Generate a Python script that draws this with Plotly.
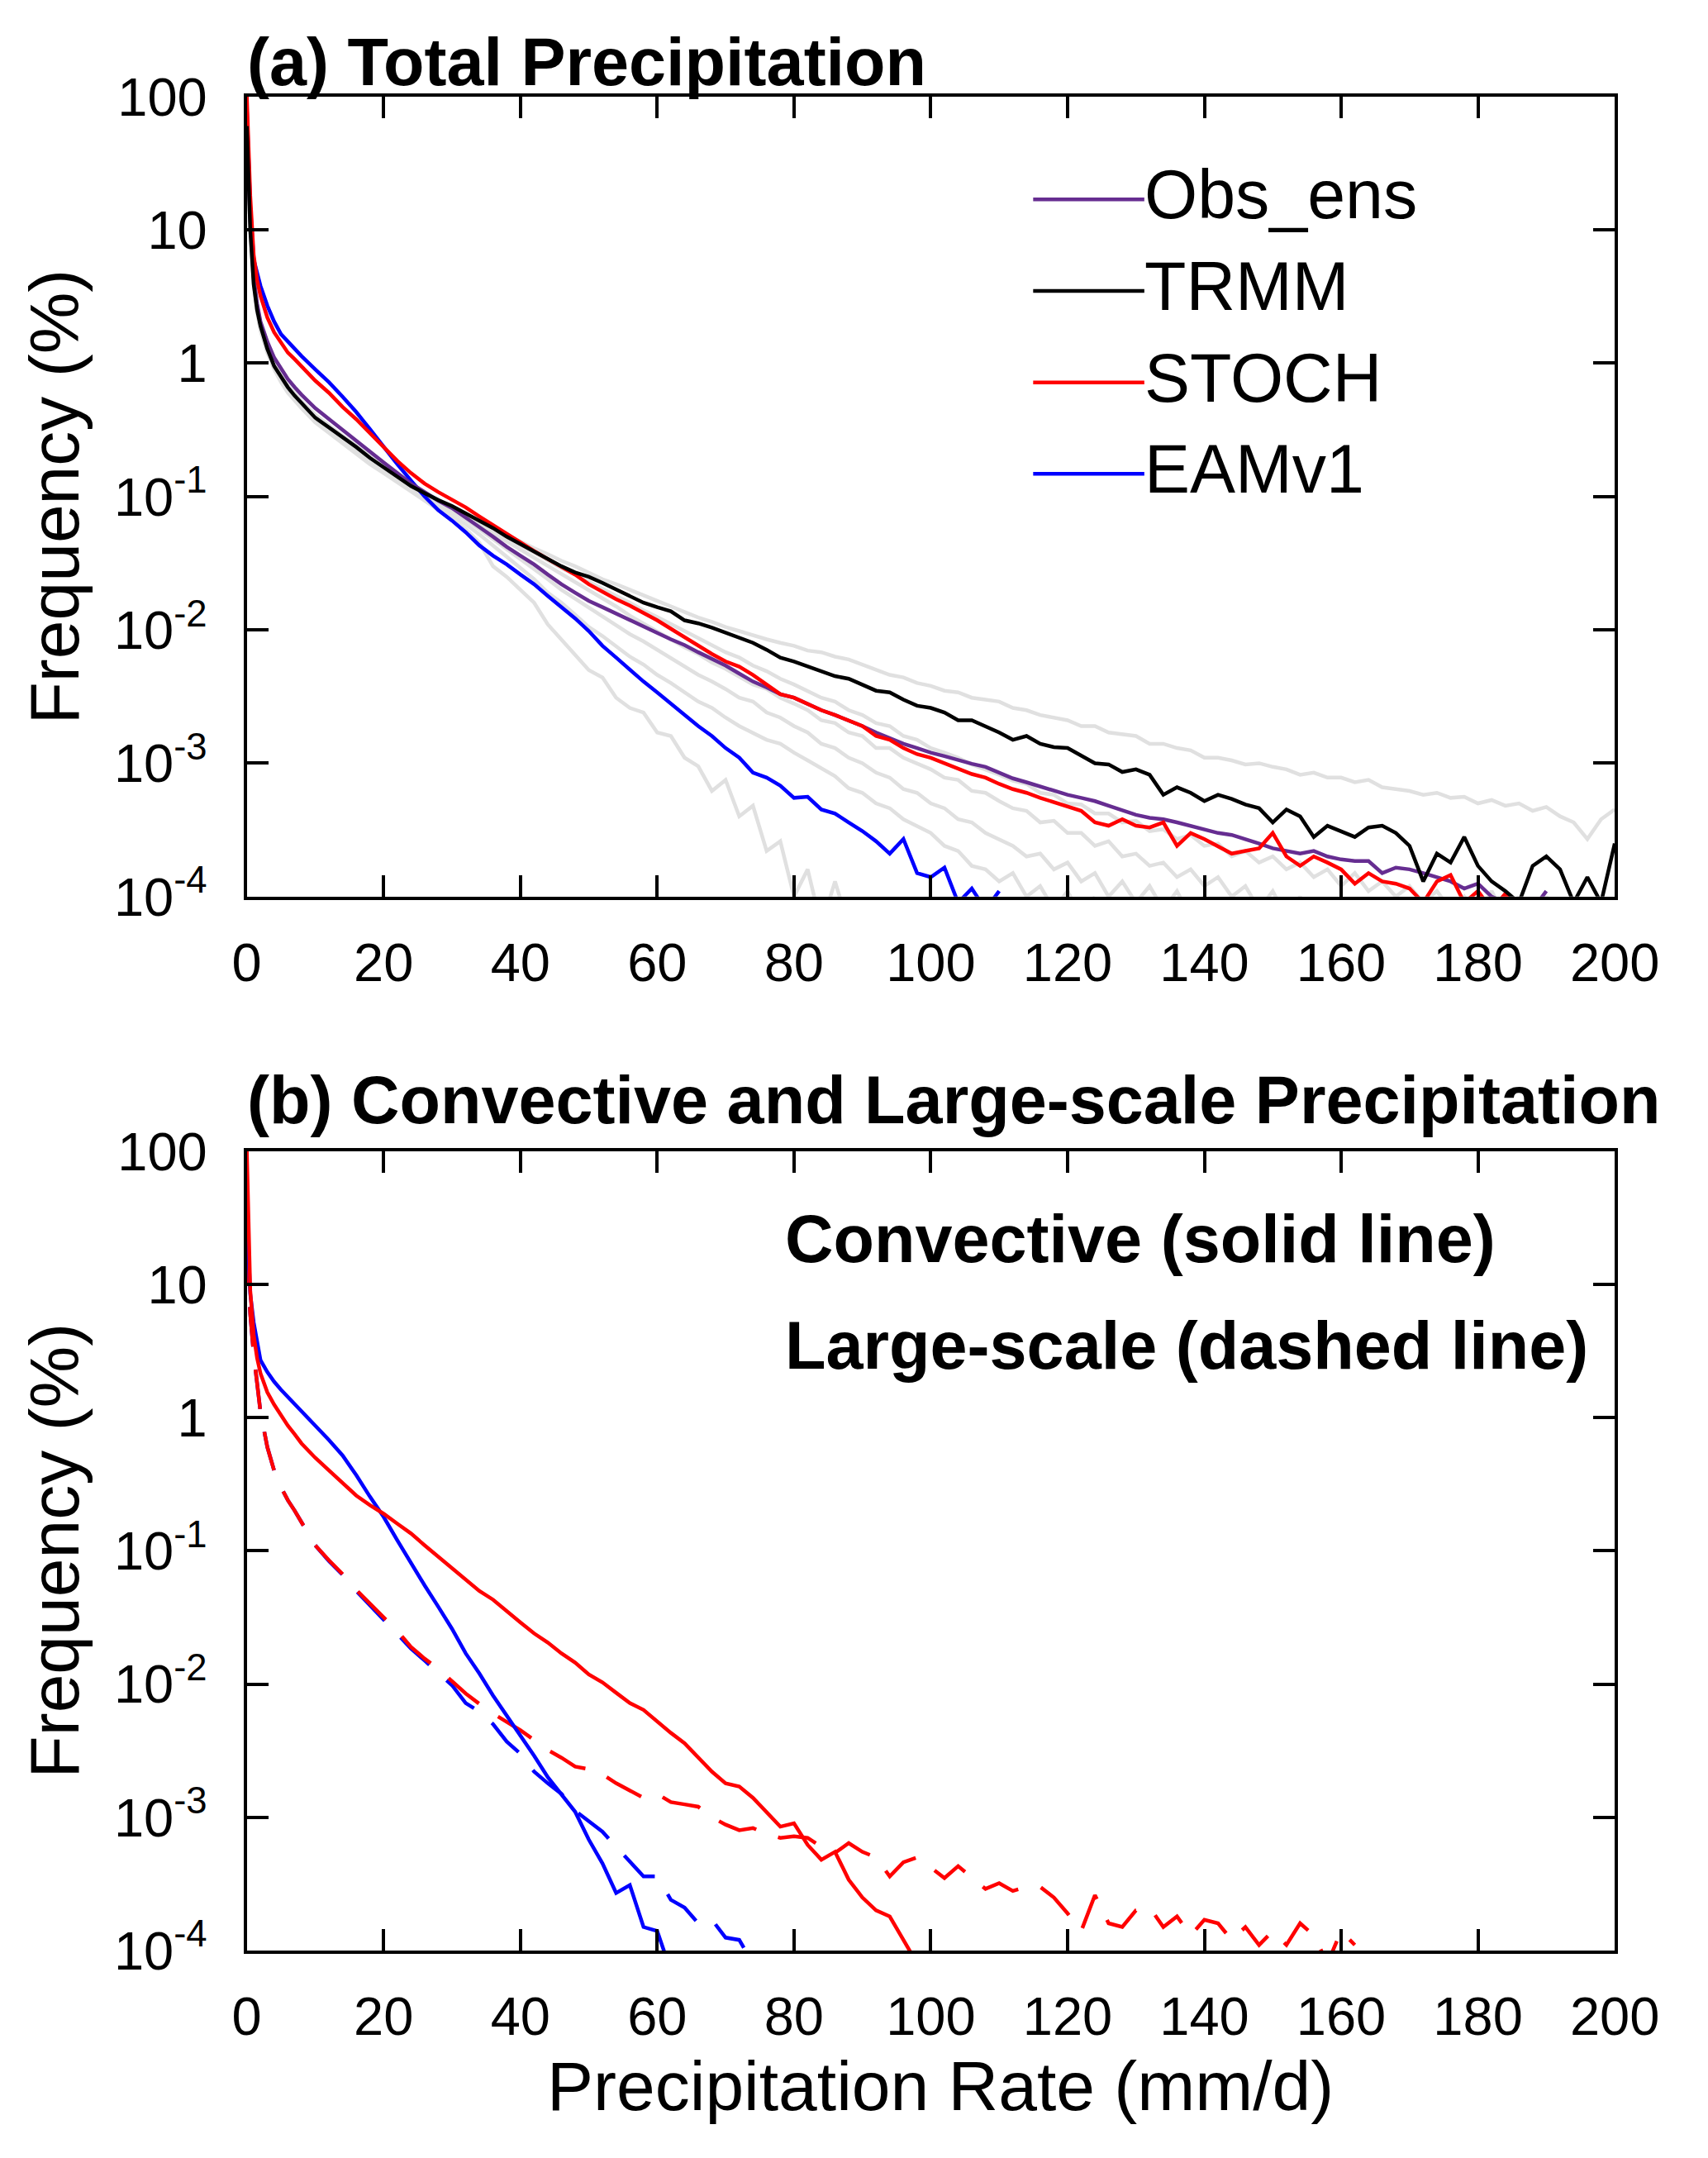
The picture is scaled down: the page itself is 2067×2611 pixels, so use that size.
import plotly.graph_objects as go

# bin centres (mm/d)
X_EARLY = [0, 0.5, 1, 1.5, 2, 3, 4, 5, 6, 7, 8]
X = X_EARLY + list(range(10, 201, 2))
N = len(X)


def pad(vals):
    return vals + [None] * (N - len(vals))


# ---- (a) total precipitation, frequency in % ----
OBS_ENS = pad([60, 12, 4.4, 2.8, 2.05, 1.45, 1.1, 0.9, 0.76, 0.66, 0.58,
    0.46, 0.38, 0.32, 0.26, 0.215, 0.18, 0.15, 0.125, 0.108, 0.093,
    0.082, 0.07, 0.059, 0.05, 0.042, 0.036, 0.031, 0.026, 0.022, 0.019,
    0.0165, 0.0148, 0.0133, 0.0118, 0.0106, 0.0095, 0.0085, 0.0077, 0.0068, 0.0061,
    0.0054, 0.0047, 0.0041, 0.0037, 0.0033, 0.0031, 0.0028, 0.0025, 0.0023, 0.0021,
    0.0019, 0.0017, 0.00155, 0.0014, 0.0013, 0.0012, 0.00113, 0.00105, 0.00099, 0.00094,
    0.00085, 0.00077, 0.00072, 0.00067, 0.00062, 0.00058, 0.00055, 0.00052, 0.00048, 0.00044,
    0.00041, 0.00039, 0.00038, 0.00036, 0.00034, 0.00032, 0.0003, 0.00029, 0.00027, 0.00025,
    0.00023, 0.00022, 0.00021, 0.00022, 0.0002, 0.00019, 0.000185, 0.000185, 0.00015, 0.000165,
    0.00016, 0.00015, 0.00014, 0.00013, 0.000115, 0.000125, 0.0001, 0.00009, 0.000095, 0.00008,
    0.00011])

TRMM = [60, 10, 3.9, 2.5, 1.9, 1.28, 0.95, 0.78, 0.66, 0.57, 0.5,
    0.39, 0.33, 0.28, 0.235, 0.195, 0.165, 0.14, 0.12, 0.106, 0.094,
    0.085, 0.075, 0.066, 0.058, 0.05, 0.044, 0.039, 0.034, 0.030, 0.027,
    0.025, 0.0225, 0.020, 0.018, 0.016, 0.0148, 0.0138, 0.0118, 0.0112, 0.0104,
    0.0095, 0.0087, 0.0080, 0.0071, 0.0062, 0.0058, 0.0053, 0.0049, 0.0045, 0.0043,
    0.0039, 0.0035, 0.0034, 0.0030, 0.0027, 0.0026, 0.0024, 0.0021, 0.0021, 0.0019,
    0.0017, 0.0015, 0.0016, 0.0014, 0.00132, 0.0013, 0.00115, 0.0010, 0.00098, 0.00086,
    0.0009, 0.00082, 0.00058, 0.00066, 0.0006, 0.00052, 0.00058, 0.00054, 0.00049, 0.00046,
    0.00036, 0.00045, 0.0004, 0.00028, 0.00034, 0.00031, 0.00028, 0.00033, 0.00034, 0.0003,
    0.00024, 0.00013, 0.00021, 0.00018, 0.00028, 0.00017, 0.00013, 0.00011, 0.00009, 0.00017,
    0.0002, 0.00016, 0.00009, 0.00014, 0.00009, 0.00025]

STOCH = pad([100, 18, 6.5, 4.2, 3.2, 2.2, 1.7, 1.42, 1.2, 1.07, 0.95,
    0.74, 0.6, 0.47, 0.38, 0.3, 0.235, 0.185, 0.15, 0.125, 0.108,
    0.095, 0.083, 0.071, 0.061, 0.052, 0.045, 0.039, 0.034, 0.030, 0.026,
    0.022, 0.0192, 0.017, 0.0152, 0.0135, 0.0118, 0.0102, 0.0088, 0.0076, 0.0066,
    0.0058, 0.0053, 0.0046, 0.0039, 0.0033, 0.0031, 0.0028, 0.0025, 0.0023, 0.0021,
    0.0019, 0.0016, 0.0015, 0.0013, 0.00117, 0.0011, 0.001, 0.0009, 0.00083, 0.00078,
    0.0007, 0.00064, 0.0006, 0.00055, 0.00051, 0.00047, 0.00044, 0.00036, 0.00034, 0.00038,
    0.00034, 0.00033, 0.00036, 0.00024, 0.0003, 0.00027, 0.00024, 0.00021, 0.00022, 0.00023,
    0.0003, 0.0002, 0.00017, 0.0002, 0.00018, 0.00016, 0.000125, 0.00015, 0.00013, 0.000125,
    0.000115, 0.00009, 0.00013, 0.000145, 0.00009, 0.00011, 0.00008, 0.000105, 0.00007])

EAMV1 = pad([80, 15, 6.0, 4.6, 3.8, 2.7, 2.05, 1.65, 1.45, 1.28, 1.13,
    0.9, 0.72, 0.56, 0.43, 0.32, 0.235, 0.175, 0.132, 0.1, 0.079,
    0.066, 0.054, 0.043, 0.036, 0.031, 0.026, 0.022, 0.018, 0.0148, 0.0122,
    0.0098, 0.0076, 0.0062, 0.005, 0.0041, 0.0034, 0.0028, 0.0023, 0.0019, 0.0016,
    0.0013, 0.0011, 0.00085, 0.00078, 0.00068, 0.00055, 0.00056, 0.00045, 0.00042, 0.00036,
    0.00031, 0.00026, 0.00021, 0.00027, 0.00015, 0.00014, 0.000165, 0.00009, 0.000115, 0.00008,
    0.00011])

# individual observational products (grey)
OBS_1 = pad([50, 10, 4.0, 2.4, 1.75, 1.2, 0.9, 0.72, 0.6, 0.52, 0.46,
    0.36, 0.3, 0.25, 0.21, 0.175, 0.15, 0.128, 0.11, 0.095, 0.08,
    0.068, 0.057, 0.045, 0.03, 0.025, 0.02, 0.016, 0.011, 0.0085, 0.0065,
    0.005, 0.0044, 0.0031, 0.0026, 0.0024, 0.0017, 0.0016, 0.0011, 0.00095, 0.00062,
    0.00075, 0.0004, 0.00048, 0.00022, 0.00026, 0.0001, 0.00016, 0.00006, 0.00013, 0.00006])
OBS_2 = pad([50, 10, 4.1, 2.5, 1.8, 1.22, 0.92, 0.74, 0.62, 0.54, 0.48,
    0.37, 0.31, 0.26, 0.22, 0.18, 0.155, 0.13, 0.112, 0.097, 0.084,
    0.072, 0.062, 0.052, 0.043, 0.035, 0.029, 0.024, 0.019, 0.016, 0.013,
    0.0105, 0.009, 0.0075, 0.0063, 0.0055, 0.0046, 0.004, 0.0034, 0.0029, 0.0026,
    0.0022, 0.0019, 0.0017, 0.0015, 0.0014, 0.0012, 0.00105, 0.00092, 0.0008, 0.00065,
    0.0006, 0.0005, 0.00046, 0.00038, 0.00034, 0.0003, 0.00024, 0.00022, 0.00017, 0.00016,
    0.00013, 0.00015, 0.0001, 0.00012, 0.00008, 0.00011, 0.00007, 0.0001])
OBS_3 = pad([55, 11, 4.3, 2.6, 1.85, 1.25, 0.94, 0.76, 0.64, 0.55, 0.49,
    0.38, 0.32, 0.27, 0.225, 0.19, 0.16, 0.135, 0.117, 0.101, 0.088,
    0.077, 0.067, 0.057, 0.048, 0.041, 0.034, 0.029, 0.024, 0.02, 0.0172,
    0.0148, 0.0127, 0.011, 0.0093, 0.0082, 0.0071, 0.0062, 0.0053, 0.0046, 0.0041,
    0.0036, 0.0031, 0.0029, 0.0024, 0.0022, 0.0019, 0.0017, 0.0014, 0.0013, 0.0011,
    0.001, 0.00085, 0.00078, 0.00064, 0.0006, 0.0005, 0.00046, 0.00038, 0.00036, 0.0003,
    0.00027, 0.00024, 0.0002, 0.00021, 0.00016, 0.00018, 0.00013, 0.00015, 0.0001, 0.00013,
    0.00009, 0.00012, 0.00008, 0.00011, 0.00007, 0.0001])
OBS_4 = pad([55, 11, 4.4, 2.65, 1.9, 1.28, 0.96, 0.77, 0.65, 0.56, 0.5,
    0.39, 0.33, 0.275, 0.23, 0.195, 0.165, 0.14, 0.12, 0.104, 0.091,
    0.08, 0.07, 0.061, 0.053, 0.046, 0.04, 0.035, 0.03, 0.026, 0.023,
    0.02, 0.0172, 0.015, 0.0128, 0.0112, 0.0098, 0.0086, 0.0074, 0.0066, 0.0057,
    0.0051, 0.0045, 0.0039, 0.0036, 0.0031, 0.0028, 0.0025, 0.0021, 0.002, 0.0017,
    0.0016, 0.0013, 0.0013, 0.0011, 0.001, 0.0009, 0.00078, 0.00075, 0.00062, 0.0006,
    0.00052, 0.00046, 0.00044, 0.00036, 0.00037, 0.0003, 0.0003, 0.00024, 0.00026, 0.0002,
    0.00021, 0.00017, 0.00018, 0.00014, 0.00016, 0.00012, 0.00014, 0.0001, 0.00012, 0.00008,
    0.00011, 0.00007, 0.0001, 0.00006, 0.00009])
OBS_5 = [60, 12, 4.6, 2.8, 2.0, 1.35, 1.0, 0.8, 0.68, 0.59, 0.52,
    0.41, 0.34, 0.285, 0.24, 0.2, 0.17, 0.145, 0.125, 0.108, 0.095,
    0.083, 0.073, 0.064, 0.056, 0.049, 0.043, 0.038, 0.033, 0.029, 0.026,
    0.023, 0.02, 0.018, 0.016, 0.014, 0.0125, 0.011, 0.0098, 0.0087, 0.0077,
    0.0068, 0.0062, 0.0054, 0.0049, 0.0043, 0.0039, 0.0035, 0.0031, 0.0029, 0.0025,
    0.0023, 0.002, 0.0019, 0.0016, 0.0015, 0.0013, 0.0012, 0.0011, 0.00098, 0.0009,
    0.00082, 0.00074, 0.0007, 0.0006, 0.00058, 0.0005, 0.00049, 0.00042, 0.00042, 0.00036,
    0.00037, 0.00031, 0.00032, 0.00027, 0.00029, 0.00024, 0.00025, 0.0002, 0.00022, 0.00018,
    0.0002, 0.00016, 0.00018, 0.00014, 0.00016, 0.00012, 0.00015, 0.00011, 0.00013, 0.0001,
    0.00012, 0.00009, 0.00011, 0.00008, 0.0001, 0.00007, 0.00011, 0.00007, 0.0001, 0.00006,
    0.0001, 0.00007, 0.00009, 0.00006, 0.00008, 0.00007]
OBS_6 = [55, 11, 4.2, 2.5, 1.8, 1.22, 0.92, 0.74, 0.63, 0.55, 0.48,
    0.38, 0.32, 0.27, 0.225, 0.19, 0.16, 0.137, 0.118, 0.103, 0.092,
    0.082, 0.073, 0.065, 0.058, 0.051, 0.046, 0.041, 0.037, 0.033, 0.03,
    0.027, 0.024, 0.022, 0.02, 0.018, 0.0165, 0.015, 0.0137, 0.0124, 0.0115,
    0.0105, 0.0098, 0.0091, 0.0085, 0.008, 0.0076, 0.007, 0.0068, 0.0063, 0.006,
    0.0055, 0.005, 0.0046, 0.0044, 0.004, 0.0038, 0.0035, 0.0034, 0.0031, 0.003,
    0.0029, 0.0026, 0.0025, 0.0023, 0.0022, 0.0021, 0.0019, 0.0019, 0.0017, 0.00165,
    0.0016, 0.0014, 0.0014, 0.0013, 0.00125, 0.0011, 0.0011, 0.00105, 0.00098, 0.001,
    0.00094, 0.0009, 0.00082, 0.00085, 0.00078, 0.00078, 0.00072, 0.00075, 0.00066, 0.00064,
    0.00062, 0.00058, 0.0006, 0.00055, 0.00056, 0.0005, 0.00053, 0.00048, 0.0005, 0.00044,
    0.00047, 0.0004, 0.00036, 0.00027, 0.00038, 0.00045]
OBS_GREY = [OBS_1, OBS_2, OBS_3, OBS_4, OBS_5, OBS_6]

# ---- (b) convective (solid) and large-scale (dashed) ----
CONV_STOCH = pad([100, 9, 4.2, 2.8, 2.15, 1.55, 1.25, 1.03, 0.87, 0.75, 0.64,
    0.5, 0.4, 0.32, 0.26, 0.22, 0.19, 0.16, 0.135, 0.11, 0.09,
    0.074, 0.06, 0.05, 0.043, 0.035, 0.029, 0.024, 0.0205, 0.017, 0.0145,
    0.0118, 0.0103, 0.0086, 0.0072, 0.0064, 0.0052, 0.0043, 0.0036, 0.0028, 0.0022,
    0.0018, 0.0017, 0.0014, 0.0011, 0.00085, 0.0009, 0.00062, 0.00048, 0.00055, 0.00034,
    0.00025, 0.0002, 0.00018, 0.00012, 0.00008])
CONV_EAMV1 = pad([35, 8.5, 5.2, 3.6, 2.7, 2.2, 1.86, 1.62, 1.43, 1.28, 1.12,
    0.88, 0.68, 0.52, 0.37, 0.255, 0.18, 0.12, 0.08, 0.055, 0.038,
    0.026, 0.017, 0.012, 0.0082, 0.0058, 0.0042, 0.0029, 0.002, 0.0015, 0.0011,
    0.00068, 0.00045, 0.00027, 0.00031, 0.00015, 0.00014, 0.00007])
LS_STOCH = pad([20, 6, 3.0, 1.8, 1.1, 0.6, 0.4, 0.3, 0.24, 0.2, 0.165,
    0.11, 0.085, 0.067, 0.051, 0.04, 0.032, 0.025, 0.019, 0.0155, 0.013,
    0.0105, 0.0085, 0.0071, 0.006, 0.0052, 0.0045, 0.0038, 0.0032, 0.0028, 0.0024,
    0.0023, 0.0021, 0.0018, 0.0016, 0.0014, 0.0015, 0.0013, 0.00125, 0.0012, 0.001,
    0.00088, 0.0008, 0.00083, 0.00075, 0.0007, 0.00072, 0.0007, 0.0006, 0.00054, 0.00064,
    0.00055, 0.0005, 0.00036, 0.00046, 0.0005, 0.00042, 0.00035, 0.00043, 0.00035, 0.00029,
    0.00032, 0.00028, 0.0003, 0.0003, 0.00025, 0.00019, 0.00014, 0.00026, 0.00016, 0.00015,
    0.0002, 0.00021, 0.00015, 0.00018, 0.00013, 0.00017, 0.00016, 0.00012, 0.00015, 0.00011,
    0.00014, 0.00011, 0.00016, 0.00013, 0.00008, 0.00014, 0.00011])
LS_EAMV1 = pad([20, 6, 3.0, 1.8, 1.1, 0.6, 0.4, 0.3, 0.24, 0.2, 0.165,
    0.11, 0.084, 0.066, 0.05, 0.039, 0.031, 0.024, 0.0185, 0.015, 0.0122,
    0.0098, 0.0072, 0.0062, 0.005, 0.0037, 0.003, 0.0022, 0.0018, 0.0015, 0.00112,
    0.00093, 0.00078, 0.0006, 0.00047, 0.00036, 0.00036, 0.00024, 0.00021, 0.00016, 0.00017,
    0.000125, 0.00012, 0.00008])

Y_TICKS = [1e-4, 1e-3, 1e-2, 1e-1, 1, 10, 100]
Y_LABELS = ["10<sup>-4</sup>", "10<sup>-3</sup>", "10<sup>-2</sup>", "10<sup>-1</sup>", "1", "10", "100"]
X_TICKS = list(range(0, 201, 20))

GREY = "#e0e0e0"
PURPLE = "#662d91"
FONT = "Liberation Sans, Arial, sans-serif"
W, H = 2067, 2611
LW = 4.5

# The photographed page comes out slightly shrunk and shifted, so the target
# positions (read in picture pixels) are mapped back to figure pixels.
SX, OX = 0.9686, 16.3
SY, OY = 0.975, 35.0


def fx(r):
    return (r - OX) / SX


def fy(r):
    return (r - OY) / SY


def px(f):
    return f / W


def py(f):
    return 1 - f / H


X_LEFT, X_RIGHT = fx(298), 2006  # keep room for the "200" label
TICKFONT = dict(family=FONT, size=65, color="black")

fig = go.Figure()

# panel (a)
for s in OBS_GREY:
    fig.add_trace(go.Scatter(x=X, y=s, mode="lines", line=dict(color=GREY, width=LW),
                             xaxis="x", yaxis="y", showlegend=False))
for name, s, c in [("EAMv1", EAMV1, "blue"), ("Obs_ens", OBS_ENS, PURPLE),
                   ("STOCH", STOCH, "red"), ("TRMM", TRMM, "black")]:
    fig.add_trace(go.Scatter(x=X, y=s, mode="lines", name=name, line=dict(color=c, width=LW),
                             xaxis="x", yaxis="y", showlegend=False))

# panel (b)
DASH = "48px,28px"
for s, c, d in [(LS_EAMV1, "blue", DASH), (LS_STOCH, "red", DASH),
                (CONV_EAMV1, "blue", "solid"), (CONV_STOCH, "red", "solid")]:
    fig.add_trace(go.Scatter(x=X, y=s, mode="lines", line=dict(color=c, width=LW, dash=d),
                             xaxis="x2", yaxis="y2", showlegend=False))

common_x = dict(range=[0, 200], tickvals=X_TICKS, ticks="inside", ticklen=26, tickwidth=4,
                tickcolor="black", showline=True, linewidth=4, linecolor="black", mirror="ticks",
                showgrid=False, zeroline=False, ticklabelstandoff=20, tickfont=TICKFONT,
                domain=[px(X_LEFT), px(X_RIGHT)])
common_y = dict(type="log", range=[-4, 2], tickvals=Y_TICKS, ticktext=Y_LABELS, ticks="inside",
                ticklen=26, tickwidth=4, tickcolor="black", showline=True, linewidth=4,
                linecolor="black", mirror="ticks", showgrid=False, zeroline=False,
                ticklabelstandoff=31, tickfont=TICKFONT)

fig.update_layout(
    width=W, height=H, margin=dict(l=0, r=0, t=0, b=0),
    paper_bgcolor="white", plot_bgcolor="white", showlegend=False,
    xaxis=dict(common_x, anchor="y"),
    yaxis=dict(common_y, domain=[py(fy(1087)), py(fy(116))], anchor="x"),
    xaxis2=dict(common_x, anchor="y2"),
    yaxis2=dict(common_y, domain=[py(fy(2366)), py(fy(1396))], anchor="x2"),
)

ann = []
ann.append(dict(text="<b>(a) Total Precipitation</b>", x=px(fx(296)), y=py(40),
                xanchor="left", yanchor="middle", font=dict(size=81)))
ann.append(dict(text="<b>(b) Convective and Large-scale Precipitation</b>", x=px(fx(296)),
                y=py(fy(1334)), xanchor="left", yanchor="middle", font=dict(size=81)))
ann.append(dict(text="<b>Convective (solid line)</b>", x=px(fx(950)), y=py(fy(1502)),
                xanchor="left", yanchor="middle", font=dict(size=81)))
ann.append(dict(text="<b>Large-scale (dashed line)</b>", x=px(fx(950)), y=py(fy(1632)),
                xanchor="left", yanchor="middle", font=dict(size=81)))
for yc in [602, 1881]:
    ann.append(dict(text="Frequency (%)", x=px(50), y=py(fy(yc)), textangle=-90,
                    xanchor="center", yanchor="middle", font=dict(size=84)))
ann.append(dict(text="Precipitation Rate (mm/d)", x=px(1160), y=py(2560),
                xanchor="center", yanchor="middle", font=dict(size=84)))

# legend of panel (a)
shapes = []
for label, c, yc in [("Obs_ens", PURPLE, 241), ("TRMM", "black", 352),
                     ("STOCH", "red", 463), ("EAMv1", "blue", 574)]:
    shapes.append(dict(type="line", xref="paper", yref="paper", x0=px(fx(1253)),
                       x1=px(fx(1388)), y0=py(fy(yc)), y1=py(fy(yc)),
                       line=dict(color=c, width=LW)))
    ann.append(dict(text=label, x=px(fx(1386)), y=py(fy(yc - 6)), xanchor="left",
                    yanchor="middle", font=dict(size=82.5)))

for a in ann:
    a.update(xref="paper", yref="paper", showarrow=False)
    a["font"].update(family=FONT, color="black")

fig.update_layout(annotations=ann, shapes=shapes)
fig.write_html("out.html", config={"displayModeBar": False},
               post_script="document.body.style.margin='0';")
